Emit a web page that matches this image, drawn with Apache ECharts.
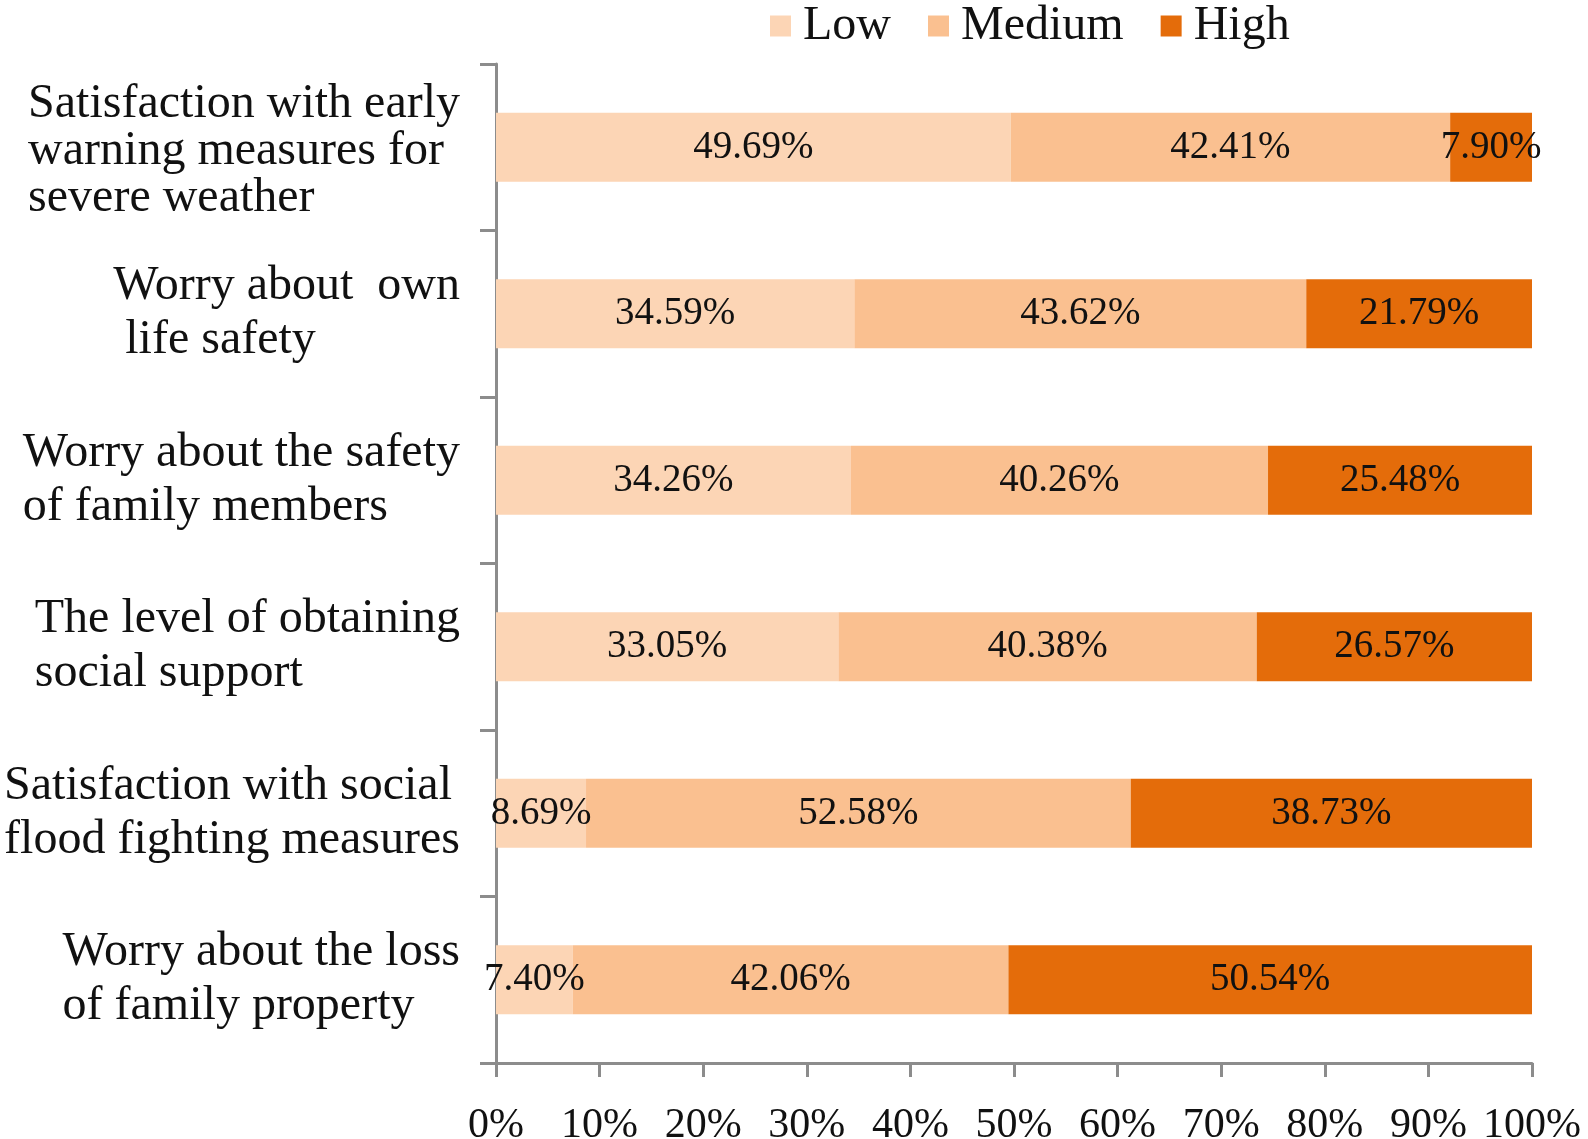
<!DOCTYPE html>
<html>
<head>
<meta charset="utf-8">
<script src="https://cdn.jsdelivr.net/npm/echarts@6/dist/echarts.min.js"></script>
<style>
html,body{margin:0;padding:0;background:#fff;}
#chart{width:1588px;height:1139px;}
</style>
</head>
<body>
<div id="chart"></div>
<script>
const categories = [
  "Satisfaction with early\nwarning measures for\nsevere weather",
  "Worry about  own\n life safety",
  "Worry about the safety\nof family members",
  "The level of obtaining\nsocial support",
  "Satisfaction with social\nflood fighting measures",
  "Worry about the loss\nof family property"
];
const seriesNames = ["Low", "Medium", "High"];
const lowValues = [49.69, 34.59, 34.26, 33.05, 8.69, 7.40];
const mediumValues = [42.41, 43.62, 40.26, 40.38, 52.58, 42.06];
const highValues = [7.90, 21.79, 25.48, 26.57, 38.73, 50.54];
const xTickLabels = ["0%","10%","20%","30%","40%","50%","60%","70%","80%","90%","100%"];

const colors = ["#FCD5B5", "#FAC090", "#E46C0A"];
const font = "'Liberation Serif', 'Times New Roman', serif";
const textColor = "#111";

const chart = echarts.init(document.getElementById('chart'), null, {renderer: 'canvas'});

function mkSeries(name, data, color) {
  return {
    name: name,
    type: 'bar',
    stack: 'total',
    barWidth: 69,
    data: data,
    itemStyle: { color: color },
    label: {
      show: true,
      position: 'inside',
      color: textColor,
      fontFamily: font,
      fontSize: 39,
      formatter: p => p.value.toFixed(2) + '%'
    },
    emphasis: { disabled: true }
  };
}

chart.setOption({
  animation: false,
  backgroundColor: '#fff',
  color: colors,
  legend: {
    data: seriesNames,
    top: -3,
    left: 765,
    itemWidth: 21,
    itemHeight: 21,
    itemGap: 37,
    icon: 'rect',
    textStyle: { fontFamily: font, fontSize: 48, color: textColor, padding: [0,0,0,7] }
  },
  grid: { left: 496, right: 56, top: 64, bottom: 76, containLabel: false, outerBoundsMode: 'none' },
  xAxis: {
    type: 'value',
    min: 0,
    max: 100,
    interval: 10,
    axisLine: { show: true, lineStyle: { color: '#8c8c8c', width: 3 } },
    axisTick: { show: true, length: 14, lineStyle: { color: '#8c8c8c', width: 3 } },
    splitLine: { show: false },
    axisLabel: {
      margin: 42,
      fontFamily: font,
      fontSize: 42,
      color: textColor,
      formatter: (v) => xTickLabels[Math.round(v / 10)]
    }
  },
  yAxis: {
    type: 'category',
    inverse: true,
    data: categories,
    axisLine: { show: true, lineStyle: { color: '#8c8c8c', width: 3 } },
    axisTick: { show: true, length: 16, lineStyle: { color: '#8c8c8c', width: 3 } },
    axisLabel: {
      margin: 36,
      color: textColor,
      fontFamily: font,
      fontSize: 48,
      lineHeight: 54,
      formatter: (v, i) => {
        const key = i === 0 ? 'b' : 'a';
        return v.split('\n').map(l => '{' + key + '|' + l + '}').join('\n');
      },
      rich: {
        a: { align: 'left', fontFamily: font, fontSize: 48, lineHeight: 54, color: textColor },
        b: { align: 'left', fontFamily: font, fontSize: 48, lineHeight: 47, color: textColor, padding: [8, 0, 0, 0] }
      }
    }
  },
  series: [
    mkSeries(seriesNames[0], lowValues, colors[0]),
    mkSeries(seriesNames[1], mediumValues, colors[1]),
    mkSeries(seriesNames[2], highValues, colors[2])
  ]
});
</script>
</body>
</html>
